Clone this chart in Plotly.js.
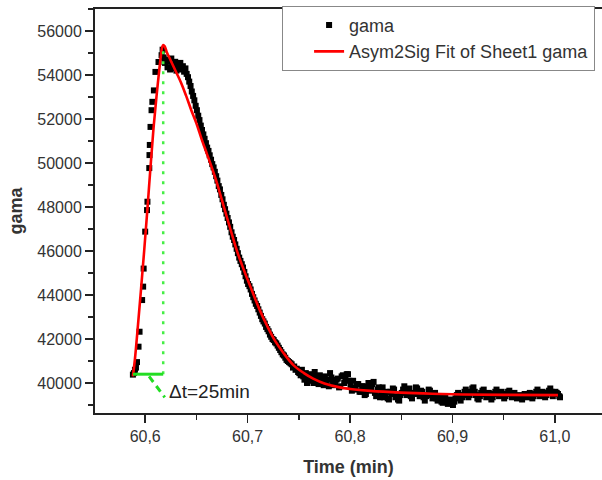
<!DOCTYPE html>
<html>
<head>
<meta charset="utf-8">
<script src="https://cdn.plot.ly/plotly-3.0.1.min.js"></script>
<style>html,body{margin:0;padding:0;background:#fff;}#chart{width:602px;height:480px;}</style>
</head>
<body>
<div id="chart"></div>
<script>
// measured data (Time in min, gama counts)
const timeData = [
60.5880,60.5890,60.5900,60.5910,60.5920,60.5935,60.5945,60.5970,60.5980,60.5985,
60.6000,60.6018,60.6022,60.6040,60.6042,60.6045,60.6052,60.6062,60.6070,60.6085,
60.6100,60.6130,60.6160,60.6170,
60.6180,60.6193,60.6205,60.6218,60.6230,60.6243,60.6255,60.6268,60.6280,60.6293,
60.6305,60.6318,60.6330,60.6343,60.6355,60.6368,60.6380,60.6393,60.6405,60.6418,
60.6430,60.6443,60.6455,60.6468,60.6480,60.6493,60.6505,60.6518,60.6530,60.6543,
60.6555,60.6568,60.6580,60.6593,60.6605,60.6618,60.6630,60.6643,60.6655,60.6668,
60.6680,60.6693,60.6705,60.6718,60.6730,60.6743,60.6755,60.6768,60.6780,60.6793,
60.6805,60.6818,60.6830,60.6843,60.6855,60.6868,60.6880,60.6893,60.6905,60.6918,
60.6930,60.6943,60.6955,60.6968,60.6980,60.6993,60.7005,60.7018,60.7030,60.7043,
60.7055,60.7068,60.7080,60.7093,60.7105,60.7118,60.7130,60.7143,60.7155,60.7168,
60.7180,60.7193,60.7205,60.7218,60.7230,60.7243,60.7255,60.7268,60.7280,60.7293,
60.7305,60.7318,60.7330,60.7343,60.7355,60.7368,60.7380,60.7393,60.7405,60.7418,
60.7430,60.7443,60.7455,60.7468,60.7480,60.7493,60.7505,60.7518,60.7530,60.7543,
60.7555,60.7568,60.7580,60.7593,60.7605,60.7618,60.7630,60.7643,60.7655,60.7668,
60.7680,60.7693,60.7705,60.7718,60.7730,60.7743,60.7755,60.7768,60.7780,60.7793,
60.7805,60.7818,60.7830,60.7843,60.7855,60.7868,60.7880,60.7893,60.7905,60.7918,
60.7930,60.7943,60.7955,60.7968,60.7980,60.7993,60.8005,60.8018,60.8030,60.8043,
60.8055,60.8068,60.8080,60.8093,60.8105,60.8118,60.8130,60.8143,60.8155,60.8168,
60.8180,60.8193,60.8205,60.8218,60.8230,60.8243,60.8255,60.8268,60.8280,60.8293,
60.8305,60.8318,60.8330,60.8343,60.8355,60.8368,60.8380,60.8393,60.8405,60.8418,
60.8430,60.8443,60.8455,60.8468,60.8480,60.8493,60.8505,60.8518,60.8530,60.8543,
60.8555,60.8568,60.8580,60.8593,60.8605,60.8618,60.8630,60.8643,60.8655,60.8668,
60.8680,60.8693,60.8705,60.8718,60.8730,60.8743,60.8755,60.8768,60.8780,60.8793,
60.8805,60.8818,60.8830,60.8843,60.8855,60.8868,60.8880,60.8893,60.8905,60.8918,
60.8930,60.8943,60.8955,60.8968,60.8980,60.8993,60.9005,60.9018,60.9030,60.9043,
60.9055,60.9068,60.9080,60.9093,60.9105,60.9118,60.9130,60.9143,60.9155,60.9168,
60.9180,60.9193,60.9205,60.9218,60.9230,60.9243,60.9255,60.9268,60.9280,60.9293,
60.9305,60.9318,60.9330,60.9343,60.9355,60.9368,60.9380,60.9393,60.9405,60.9418,
60.9430,60.9443,60.9455,60.9468,60.9480,60.9493,60.9505,60.9518,60.9530,60.9543,
60.9555,60.9568,60.9580,60.9593,60.9605,60.9618,60.9630,60.9643,60.9655,60.9668,
60.9680,60.9693,60.9705,60.9718,60.9730,60.9743,60.9755,60.9768,60.9780,60.9793,
60.9805,60.9818,60.9830,60.9843,60.9855,60.9868,60.9880,60.9893,60.9905,60.9918,
60.9930,60.9943,60.9955,60.9968,60.9980,60.9993,61.0005,61.0018,61.0030,61.0043,
61.0050
];
const gamaData = [
40380,40450,40600,40700,40950,41650,42330,43770,44380,45200,
46880,47860,48240,49770,50360,50820,51640,52400,52780,53300,
54140,54590,54900,55150,
54800,54550,54700,54350,54600,54250,54750,54450,54300,54600,
54200,54500,54350,54550,54250,54400,54150,54300,54050,53900,
53700,53500,53250,53050,52850,52600,52400,52150,51950,51700,
51500,51300,51100,50900,50700,50550,50350,50150,49950,49800,
49600,49400,49200,48950,48800,48550,48350,48100,47900,47700,
47500,47300,47100,46850,46650,46500,46300,46100,45900,45700,
45550,45400,45250,45050,44850,44650,44500,44400,44250,44050,
43900,43750,43600,43500,43350,43200,43050,42900,42800,42700,
42550,42450,42350,42200,42100,42000,41950,41850,41800,41700,
41600,41500,41400,41300,41250,41150,41050,41000,40950,40900,
40850,40700,40750,40600,40650,40500,40450,40350,40600,40300,
40150,40450,40000,40250,40400,40100,40250,40000,40500,40300,
40150,39950,40350,40100,40050,39900,40300,40050,40150,39850,
40450,40250,40100,39900,39950,40150,40200,39800,39850,40300,
40350,40000,40200,40400,40400,40100,39900,39650,40100,39800,
39700,39950,39950,39600,39600,39850,39850,39450,39500,39750,
40000,39650,39700,39950,40050,39550,39400,39700,39800,39350,
39550,39800,39350,39500,39600,39300,39250,39600,39500,39750,
39700,39350,39400,39250,39200,39450,39550,39700,39850,39600,
39450,39650,39750,39400,39300,39500,39550,39800,39750,39500,
39400,39650,39600,39350,39200,39400,39450,39700,39650,39450,
39300,39500,39550,39300,39200,39400,39350,39150,39100,39300,
39400,39200,39050,39150,39250,39100,39000,39150,39300,39450,
39550,39350,39200,39350,39450,39600,39700,39500,39350,39450,
39600,39750,39800,39600,39450,39300,39250,39400,39550,39650,
39700,39500,39350,39450,39550,39400,39250,39350,39500,39600,
39700,39550,39400,39500,39600,39450,39300,39400,39500,39600,
39650,39500,39350,39450,39550,39400,39300,39350,39450,39350,
39250,39400,39500,39450,39350,39450,39550,39400,39300,39400,
39500,39600,39700,39550,39400,39500,39600,39450,39350,39450,
39550,39650,39750,39600,39400,39500,39600,39550,39500,39400,
39350
];
// Asym2Sig fit curve
const fitTime = [
60.5880,60.5900,60.5930,60.5960,60.5990,60.6020,60.6050,60.6080,60.6110,60.6130,
60.6150,60.6165,60.6176,60.6190,60.6210,60.6250,60.6300,60.6350,60.6400,60.6450,
60.6500,60.6550,60.6600,60.6650,60.6700,60.6750,60.6800,60.6860,60.6900,60.6950,
60.7000,60.7040,60.7080,60.7120,60.7190,60.7270,60.7350,60.7450,60.7550,60.7640,
60.7750,60.7900,60.8000,60.8200,60.8500,60.8800,60.9100,60.9500,61.0030
];
const fitGama = [
40300,41100,42650,44300,46000,47800,49700,51500,53000,53900,
54750,55250,55364,55310,55050,54650,54150,53650,53050,52400,
51800,51100,50450,49800,49100,48300,47500,46550,45950,45300,
44700,44230,43750,43300,42600,41900,41364,40800,40450,40200,
39980,39800,39730,39640,39560,39510,39480,39460,39450
];
// Δt marker values
const tStart = 60.588, tPeak = 60.6176;
const gBase = 40400, gPeak = 55364;
const labelText = "Δt=25min";
const seriesNames = ["gama", "Asym2Sig Fit of Sheet1 gama"];

const FONT = "Liberation Sans, Arial, Helvetica, sans-serif";

const traces = [
  {x: timeData, y: gamaData, type: "scatter", mode: "markers", name: seriesNames[0],
   marker: {symbol: "square", size: 6, color: "#000"}},
  {x: fitTime, y: fitGama, type: "scatter", mode: "lines", name: seriesNames[1],
   line: {color: "#ff0000", width: 2.6, shape: "spline", smoothing: 1}}
];

const layout = {
  width: 602, height: 480,
  margin: {l: 95, r: 0, t: 9, b: 67},
  paper_bgcolor: "#fff", plot_bgcolor: "#fff",
  separators: ",.",
  font: {family: FONT, color: "#333"},
  showlegend: true,
  legend: {x: 0.369, y: 1.008, xanchor: "left", yanchor: "top",
    bordercolor: "#888", borderwidth: 1, bgcolor: "#fff",
    font: {family: FONT, size: 18, color: "#333"}, indentation: 26, tracegroupgap: 0},
  xaxis: {range: [60.551, 61.046], tick0: 60.6, dtick: 0.1, tickformat: ".1f",
    showgrid: false, zeroline: false, showline: true, linecolor: "#222", linewidth: 2,
    mirror: true, ticks: "outside", ticklen: 8, tickwidth: 1.5, tickcolor: "#222",
    minor: {dtick: 0.05, ticks: "outside", ticklen: 5, tickwidth: 1.5, tickcolor: "#222"},
    tickfont: {family: FONT, size: 16, color: "#333"},
    title: {text: "<b>Time (min)</b>", font: {family: FONT, size: 18, color: "#333"}, standoff: 16}},
  yaxis: {range: [38636, 57000], tick0: 0, dtick: 2000, tickformat: "d",
    showgrid: false, zeroline: false, showline: true, linecolor: "#222", linewidth: 2,
    ticks: "outside", ticklen: 8, tickwidth: 1.5, tickcolor: "#222",
    minor: {dtick: 1000, ticks: "outside", ticklen: 5, tickwidth: 1.5, tickcolor: "#222"},
    tickfont: {family: FONT, size: 16, color: "#333"},
    title: {text: "<b>gama</b>", font: {family: FONT, size: 18, color: "#333"}, standoff: 10}},
  shapes: [
    {type: "line", xref: "x", yref: "y", x0: tPeak, x1: tPeak, y0: gBase, y1: gPeak,
     line: {color: "#44ee44", width: 2.5, dash: "3px,7px"}},
    {type: "line", xref: "x", yref: "y", x0: tStart, x1: tPeak, y0: gBase, y1: gBase,
     line: {color: "#22dd22", width: 3}},
    {type: "line", xref: "x", yref: "y", x0: (tStart + tPeak) / 2 + 0.001, x1: tPeak + 0.0015,
     y0: gBase - 100, y1: gBase - 1050,
     line: {color: "#22dd22", width: 3, dash: "7px,5px"}}
  ],
  annotations: [
    {x: tPeak + 0.0035, y: gBase - 800, xref: "x", yref: "y", text: labelText, showarrow: false,
     xanchor: "left", yanchor: "middle", font: {family: FONT, size: 19, color: "#222"}}
  ]
};

Plotly.newPlot("chart", traces, layout, {displayModeBar: false, staticPlot: true});
</script>
</body>
</html>
